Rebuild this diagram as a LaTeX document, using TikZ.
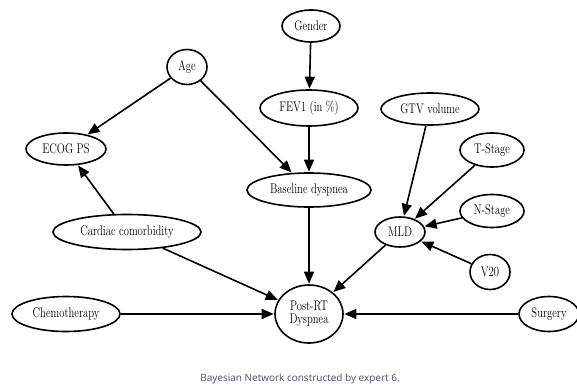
\documentclass[tikz,border=0pt]{standalone}
\usepackage{fontspec}
\usepackage{graphicx}
\usetikzlibrary{shapes.geometric,arrows.meta}
\newfontfamily\capfont{Open Sans}
\definecolor{captext}{RGB}{66,80,102}
% narrow tall serif labels
\newcommand\nt[1]{\scalebox{0.76}[1]{#1}}
\begin{document}
\begin{tikzpicture}[x=1pt,y=-1pt,
  var/.style={draw,ellipse,line width=1.6pt,inner sep=0pt,
    font=\fontsize{14}{15}\selectfont},
  link/.style={line width=1.6pt,-{Triangle[length=12pt,width=10pt]},shorten >=0.5pt}]
\useasboundingbox (0,0) rectangle (577,387);

% variables
\node[var,minimum width=58pt,minimum height=32pt] (gender) at (311,26) {\nt{Gender}};
\node[var,minimum width=98pt,minimum height=36pt] (fev) at (309,108) {\nt{FEV1 (in \%)}};
\node[var,minimum width=124pt,minimum height=34pt] (base) at (309,190) {\nt{Baseline dyspnea}};
\node[var,minimum width=40pt,minimum height=35pt] (age) at (187,67) {\nt{Age}};
\node[var,minimum width=80pt,minimum height=32pt] (ecog) at (66,149) {\nt{ECOG PS}};
\node[var,minimum width=98pt,minimum height=32pt] (gtv) at (430,109) {\nt{GTV volume}};
\node[var,minimum width=64pt,minimum height=34pt] (tst) at (492,150) {\nt{T-Stage}};
\node[var,minimum width=64pt,minimum height=33pt] (nst) at (492,211) {\nt{N-Stage}};
\node[var,minimum width=50pt,minimum height=30pt] (mld) at (400,232) {\nt{MLD}};
\node[var,minimum width=40pt,minimum height=35pt] (v20) at (490,272) {\nt{V20}};
\node[var,minimum width=68pt,minimum height=58pt] (post) at (309,314)
  {\nt{\begin{tabular}{@{}c@{}}Post-RT\\[-2pt]Dyspnea\end{tabular}}};
\node[var,minimum width=60pt,minimum height=35pt] (surg) at (549,314) {\nt{Surgery}};
\node[var,minimum width=108pt,minimum height=35pt] (chemo) at (66,314) {\nt{Chemotherapy}};
\node[var,minimum width=148pt,minimum height=35pt] (card) at (127,232) {\nt{Cardiac comorbidity}};

% dependencies
\draw[link] (age) -- (ecog);
\draw[link] (age) -- (base);
\draw[link] (gender) -- (fev);
\draw[link] (fev) -- (base);
\draw[link] (card) -- (ecog);
\draw[link] (card) -- (post);
\draw[link] (base) -- (post);
\draw[link] (gtv) -- (mld);
\draw[link] (tst) -- (mld);
\draw[link] (nst) -- (mld);
\draw[link] (v20) -- (mld);
\draw[link] (mld) -- (post);
\draw[link] (chemo) -- (post);
\draw[link] (surg) -- (post);

% caption
\node[font=\capfont\fontsize{10}{12}\selectfont,text=captext] (cap) at (300,379)
  {Bayesian Network constructed by expert 6.};
\end{tikzpicture}
\end{document}
